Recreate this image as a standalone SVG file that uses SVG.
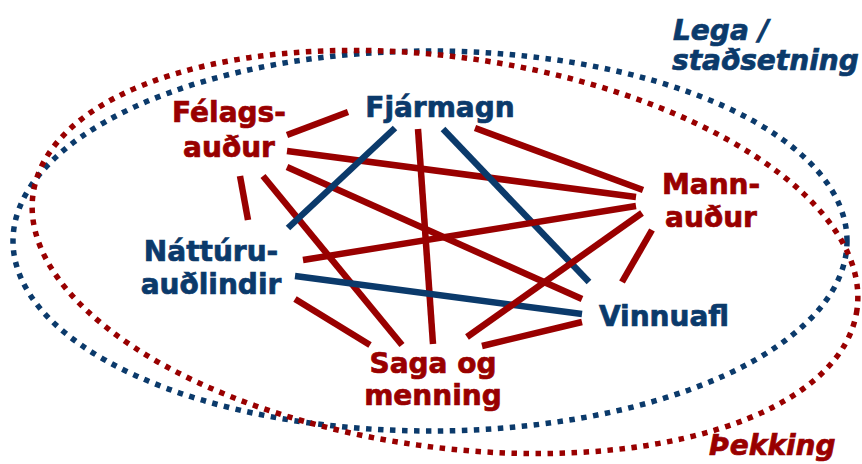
<svg xmlns="http://www.w3.org/2000/svg" width="862" height="464" viewBox="0 0 862 464">
<style>
.t{font-family:"DejaVu Sans",Verdana,sans-serif;font-weight:bold;font-size:28px;text-anchor:middle;stroke-width:0.7}
.r{fill:#990000;stroke:#990000}
.b{fill:#0b3a6b;stroke:#0b3a6b}
.i{font-style:italic;text-anchor:start}
.lr{stroke:#990000;stroke-width:6.5;fill:none}
.lb{stroke:#0b3a6b;stroke-width:6.5;fill:none}
.dot{fill:none;stroke-width:5.5;stroke-dasharray:5.5 6.5}
</style>
<rect width="862" height="464" fill="#ffffff"/>
<g id="regions">
<ellipse id="lega" class="dot" cx="430" cy="241" rx="417" ry="190" stroke="#0b3a6b"/>
<ellipse id="thekking" class="dot" cx="445" cy="252" rx="416" ry="195" transform="rotate(8 445 252)" stroke="#990000"/>
</g>
<g id="connectors">
<line class="lr" x1="287" y1="135" x2="348" y2="112"/>
<line class="lr" x1="287" y1="151" x2="636" y2="197"/>
<line class="lr" x1="287" y1="167" x2="582" y2="299"/>
<line class="lr" x1="240" y1="176" x2="248" y2="220"/>
<line class="lr" x1="263" y1="176" x2="402" y2="345"/>
<line class="lr" x1="475" y1="128" x2="643" y2="190"/>
<line class="lb" x1="443" y1="129" x2="589" y2="282"/>
<line class="lb" x1="395" y1="128" x2="288" y2="228"/>
<line class="lr" x1="418" y1="129" x2="433" y2="344"/>
<line class="lr" x1="303" y1="260" x2="636" y2="206"/>
<line class="lb" x1="295" y1="276" x2="582" y2="314"/>
<line class="lr" x1="295" y1="299" x2="370" y2="345"/>
<line class="lr" x1="467" y1="337" x2="642" y2="213"/>
<line class="lr" x1="482" y1="346" x2="582" y2="322"/>
<line class="lr" x1="652" y1="230" x2="622" y2="282"/>
</g>
<g id="felagsaudur"><text class="t r" x="229" y="122">Félags-</text><text class="t r" x="229" y="157">auður</text></g>
<g id="fjarmagn"><text class="t b" x="440" y="117">Fjármagn</text></g>
<g id="mannaudur"><text class="t r" x="711" y="194">Mann-</text><text class="t r" x="711" y="227">auður</text></g>
<g id="natturuaudlindir"><text class="t b" x="211" y="261">Náttúru-</text><text class="t b" x="211" y="294">auðlindir</text></g>
<g id="vinnuafl"><text class="t b" x="664" y="326">Vinnuafl</text></g>
<g id="sagaogmenning"><text class="t r" x="433" y="373">Saga og</text><text class="t r" x="433" y="405">menning</text></g>
<g id="legastadsetning"><text class="t b i" x="673" y="40">Lega /</text><text class="t b i" x="672" y="70">staðsetning</text></g>
<g id="thekkinglabel"><text class="t r i" x="709" y="455">Þekking</text></g>
</svg>
